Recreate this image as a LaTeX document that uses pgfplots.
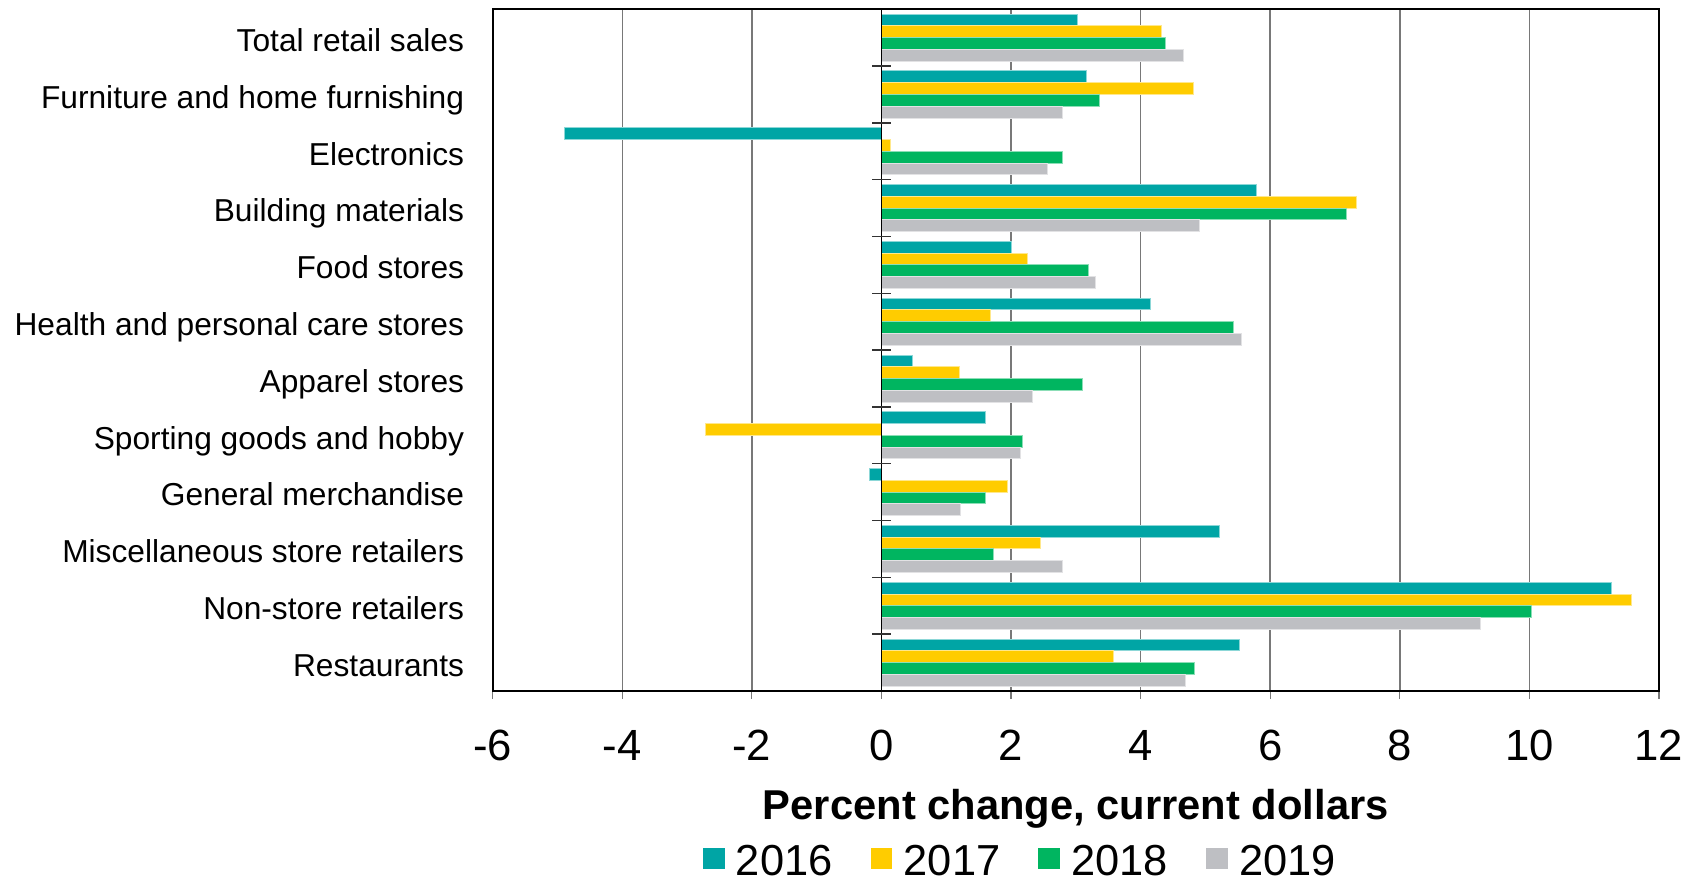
\documentclass[border=0pt]{standalone}
\usepackage{pgfplots}
\pgfplotsset{compat=1.18}
\usepackage{pgfplotstable}
\usepackage{fontspec}
\setmainfont{Liberation Sans}

\definecolor{c16}{RGB}{0,165,165}
\definecolor{c17}{RGB}{255,204,0}
\definecolor{c18}{RGB}{0,181,96}
\definecolor{c19}{RGB}{190,191,195}
\definecolor{gridgray}{RGB}{120,120,120}

% Percent change in retail sales, current dollars
\pgfplotstableread{
idx v16 v17 v18 v19
0 3.02 4.32 4.39 4.66
1 3.16 4.82 3.37 2.79
2 -4.89 0.14 2.80 2.56
3 5.79 7.33 7.18 4.91
4 2.00 2.26 3.19 3.31
5 4.16 1.68 5.44 5.55
6 0.48 1.21 3.10 2.33
7 1.61 -2.72 2.17 2.14
8 -0.18 1.95 1.60 1.22
9 5.21 2.45 1.73 2.79
10 11.26 11.58 10.03 9.25
11 5.52 3.58 4.83 4.70
}\retail

\begin{document}
\begin{tikzpicture}
\useasboundingbox (-202pt,-78.3pt) rectangle (494.2pt,283.3pt);
\begin{axis}[
  scale only axis,
  width=478.2pt, height=279.5pt,
  xbar=0pt, bar width=4.82pt,
  xmin=-6, xmax=12, ymin=-0.5, ymax=11.5,
  y dir=reverse,
  xtick={-6,-4,...,12},
  xticklabels={-6,-4,-2,0,2,4,6,8,10,12},
  ytick={0,...,11},
  yticklabels={Total retail sales, Furniture and home furnishing, Electronics,
    Building materials, Food stores, Health and personal care stores,
    Apparel stores, Sporting goods and hobby, General merchandise,
    Miscellaneous store retailers, Non-store retailers, Restaurants},
  xmajorgrids,
  major grid style={gridgray, line width=0.6pt},
  axis line style={black, line width=0.75pt},
  xtick pos=lower,
  tick align=outside,
  xtick style={gridgray, line width=0.5pt},
  major tick length=3.3pt,
  ytick style={draw=none},
  xticklabel style={font=\fontsize{17.9}{20}\selectfont, yshift=-9.3pt},
  yticklabel style={font=\fontsize{13}{15.5}\selectfont, text height=9.5pt,
    text depth=0pt, xshift=-4.9pt, yshift=-0.9pt},
  xlabel={Percent change, current dollars},
  xlabel style={at={(axis description cs:0.5,0)}, anchor=base, yshift=-52.6pt,
    font=\fontsize{17.1}{20}\selectfont\bfseries},
  legend columns=4,
  legend image code/.code={\fill[#1, draw=none] (0pt,-3.05pt) rectangle (8.9pt,5.85pt);},
  legend style={draw=none, fill=none, at={(axis description cs:0.4516,0)},
    anchor=center, xshift=1pt, yshift=-70.1pt,
    font=\fontsize{17.8}{20}\selectfont,
    /tikz/every odd column/.append style={column sep=2.7pt},
    /tikz/every even column/.append style={column sep=13.6pt}},
  every axis plot/.append style={line width=0.4pt},
]
\addplot[fill=c16, draw=c16!45!white, bar shift=7.23pt] table[x=v16, y=idx] {\retail};
\addplot[fill=c17, draw=c17!45!white, bar shift=2.41pt] table[x=v17, y=idx] {\retail};
\addplot[fill=c18, draw=c18!45!white, bar shift=-2.41pt] table[x=v18, y=idx] {\retail};
\addplot[fill=c19, draw=c19!45!white, bar shift=-7.23pt] table[x=v19, y=idx] {\retail};
\legend{2016,2017,2018,2019}
% vertical axis at zero with category separators
\draw[black, line width=0.6pt] (axis cs:0,-0.5) -- (axis cs:0,11.5);
\pgfplotsinvokeforeach{0.5,1.5,...,10.5}{
  \draw[black!80, line width=0.6pt] (axis cs:-0.14,#1) -- (axis cs:0.14,#1);
}
\end{axis}
\end{tikzpicture}
\end{document}
